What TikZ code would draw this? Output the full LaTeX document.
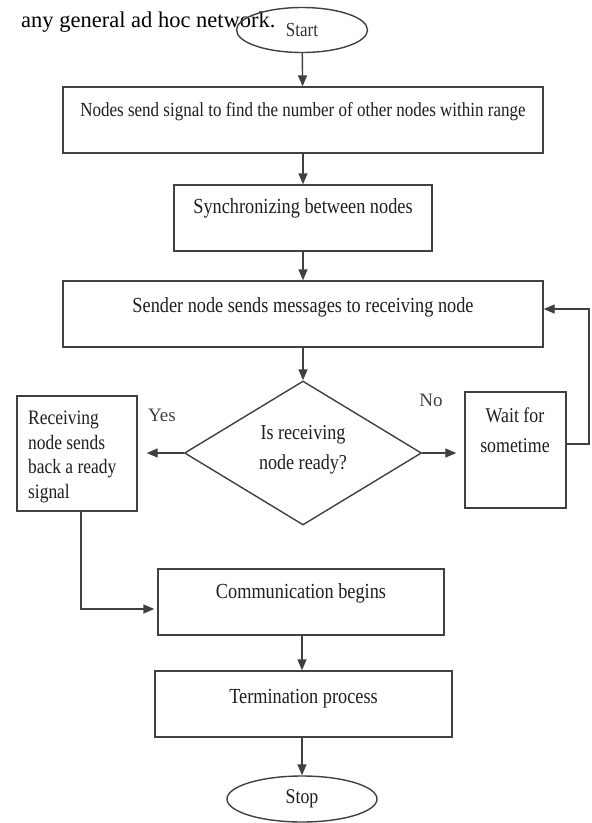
\documentclass[tikz,border=0pt]{standalone}
\usepackage{fontspec}
\setmainfont{Liberation Serif}
\newfontfamily\boxfont[FakeStretch=0.85]{Liberation Serif}
\usetikzlibrary{shapes.geometric,arrows.meta,calc}
\begin{document}
\begin{tikzpicture}[x=1pt,y=-1pt,
  ln/.style={draw=black!75, line width=1.4pt},
  arr/.style={ln, -{Triangle[length=11pt,width=9pt]}},
  box/.style={ln, rectangle, inner sep=0pt},
  ell/.style={ln, ellipse, inner sep=0pt},
  dia/.style={ln, diamond, inner sep=0pt},
  txt/.style={font=\boxfont\fontsize{21.5}{26}\selectfont, text=black!88, inner sep=0pt, align=center},
  lbl/.style={font=\fontsize{19}{22}\selectfont, text=black!75, inner sep=0pt}
]
\useasboundingbox (0,0) rectangle (592,823);
\fill[white] (0,0) rectangle (592,823);

\node[anchor=base west, font=\fontsize{22.5}{26}\selectfont, inner sep=0pt] (para) at (21,27) {any general ad hoc network.};

% shapes
\node[ell, minimum width=131pt, minimum height=45pt, font=\boxfont\fontsize{20}{22}\selectfont, text=black!80] (start) at (302,30) {Start};
\node[box, minimum width=480pt, minimum height=66pt] (b1) at (303,120) {};
\node[box, minimum width=258pt, minimum height=66pt] (b2) at (303,218) {};
\node[box, minimum width=480pt, minimum height=66pt] (b3) at (303,314) {};
\node[dia, minimum width=237pt, minimum height=144pt] (d) at (303,453) {};
\node[box, minimum width=120pt, minimum height=115pt] (lb) at (77,453.5) {};
\node[box, minimum width=101pt, minimum height=116pt] (rb) at (515.5,450) {};
\node[box, minimum width=286pt, minimum height=66pt] (comm) at (301,602) {};
\node[box, minimum width=297pt, minimum height=66pt] (term) at (303.5,704) {};
\node[ell, minimum width=150pt, minimum height=46pt, font=\boxfont\fontsize{21}{24}\selectfont, text=black!88] (stop) at (302,799) {Stop};

% texts
\node[txt, font=\boxfont\fontsize{20}{24}\selectfont] (t1) at (303,112) {Nodes send signal to find the number of other nodes within range};
\node[txt] (t2) at (303,208) {Synchronizing between nodes};
\node[txt] (t3) at (303,307) {Sender node sends messages to receiving node};
\node[txt, font=\boxfont\fontsize{21.3}{30}\selectfont] (td) at (303,450) {Is receiving\\node ready?};
\node[txt, align=left, anchor=north west, font=\boxfont\fontsize{20.5}{24.5}\selectfont] (tl) at (28,411) {Receiving\\node sends\\back a ready\\signal};
\node[txt, font=\boxfont\fontsize{21}{30}\selectfont] (tr) at (515,430) {Wait for\\sometime};
\node[txt] (t4) at (301,593) {Communication begins};
\node[txt] (t5) at (303.5,699) {Termination process};
\node[lbl] (yes) at (162,415) {Yes};
\node[lbl] (no) at (431,400) {No};

% connectors
\coordinate (axis) at (302,0);
\draw[arr] (start) -- (b1);
\draw[arr] (b1) -- (b2);
\draw[arr] (b2) -- (b3);
\draw[arr] (b3) -- (d);
\draw[arr, shorten >=9pt] (d.west) -- (d.west -| lb.east);
\draw[arr, shorten >=8pt] (d.east) -- (d.east -| rb.west);
\coordinate (fb1) at (589,444);
\coordinate (fb2) at (589,309);
\draw[arr] (rb.east |- fb1) -- (fb1) -- (fb2) -- (fb2 -| b3.east);
\coordinate (lbdown) at (81,609);
\draw[arr, shorten >=3pt] (lb.south -| lbdown) -- (lbdown) -- (lbdown -| comm.west);
\draw[arr] (comm.south -| axis) -- (term.north -| axis);
\draw[arr] (term.south -| axis) -- (stop);
\end{tikzpicture}
\end{document}
